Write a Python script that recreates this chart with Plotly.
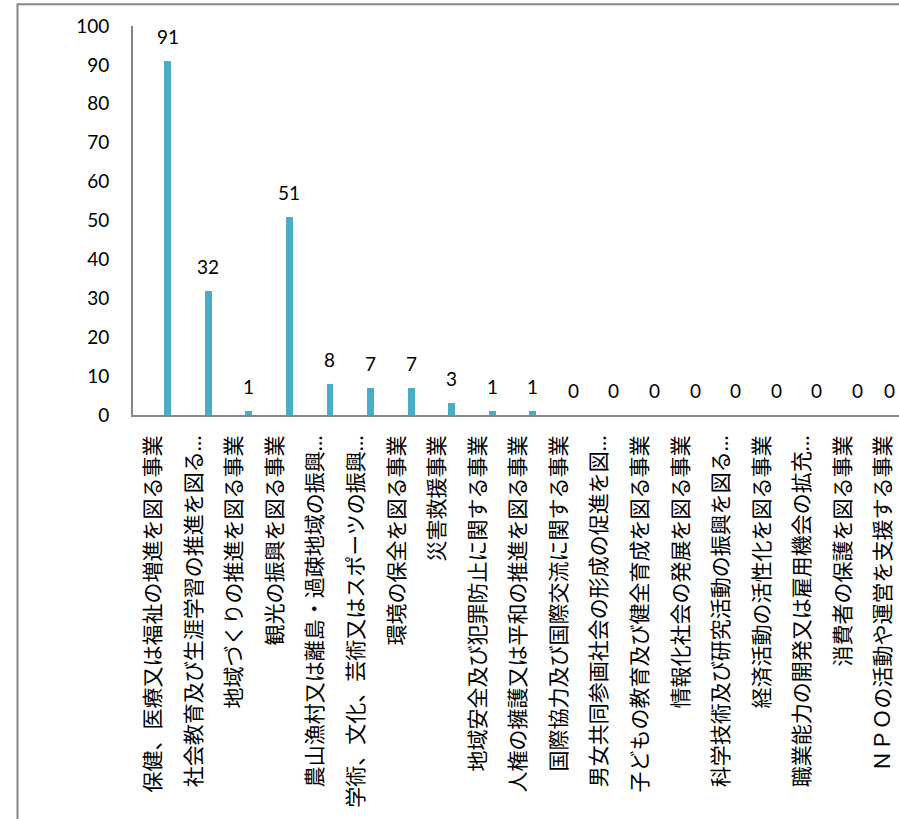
import plotly.graph_objects as go

# Categories of activity and the number of organisations for each
categories = [
    "保健、医療又は福祉の増進を図る事業",
    "社会教育及び生涯学習の推進を図る…",
    "地域づくりの推進を図る事業",
    "観光の振興を図る事業",
    "農山漁村又は離島・過疎地域の振興…",
    "学術、文化、芸術又はスポーツの振興…",
    "環境の保全を図る事業",
    "災害救援事業",
    "地域安全及び犯罪防止に関する事業",
    "人権の擁護又は平和の推進を図る事業",
    "国際協力及び国際交流に関する事業",
    "男女共同参画社会の形成の促進を図…",
    "子どもの教育及び健全育成を図る事業",
    "情報化社会の発展を図る事業",
    "科学技術及び研究活動の振興を図る…",
    "経済活動の活性化を図る事業",
    "職業能力の開発又は雇用機会の拡充…",
    "消費者の保護を図る事業",
    "ＮＰＯの活動や運営を支援する事業",
]
counts = [91, 32, 1, 51, 8, 7, 7, 3, 1, 1, 0, 0, 0, 0, 0, 0, 0, 0, 0]
y_ticks = [0, 10, 20, 30, 40, 50, 60, 70, 80, 90, 100]

W, H = 899, 819
ML, MR, MT, MB = 133, 0, 26, 404
plot_w = W - ML - MR
plot_h = H - MT - MB
cat_px = 40.57                      # pixel width of one category slot
x_max = -0.5 + plot_w / cat_px      # right edge of visible range

bar_offset, bar_width = 0.27, 0.17
positions = list(range(len(categories)))

AXIS_GREY = "#868686"
BAR_COLOUR = "#4BACC6"
NUM_FONT = "Lato, 'Open Sans', sans-serif"
# Latin font first so the ellipsis stays narrow; CJK glyphs fall back
JP_FONT = "Lato, 'Noto Sans CJK JP', 'Noto Sans CJK SC', sans-serif"

fig = go.Figure(
    go.Bar(
        x=positions,
        y=counts,
        width=bar_width,
        offset=bar_offset,
        marker=dict(color=BAR_COLOUR, line=dict(width=0)),
        hoverinfo="skip",
    )
)

# value labels above each bar
for i, v in enumerate(counts):
    cx = i + bar_offset + bar_width / 2
    shift = -8 if i == len(counts) - 1 else 0
    fig.add_annotation(
        x=cx, y=v, xref="x", yref="y",
        text=str(v), showarrow=False,
        yanchor="bottom", yshift=11, xshift=shift,
        font=dict(family=NUM_FONT, size=19, color="#000000"),
    )

# outer chart frame
def px_to_paper_x(px):
    return (px - ML) / plot_w

def px_to_paper_y(py):
    return (H - MB - py) / plot_h

fig.add_shape(
    type="rect", xref="paper", yref="paper",
    x0=px_to_paper_x(17.5), x1=px_to_paper_x(910),
    y0=px_to_paper_y(840), y1=px_to_paper_y(4.3),
    line=dict(color=AXIS_GREY, width=2), fillcolor="rgba(0,0,0,0)",
    layer="below",
)

fig.update_layout(
    width=W, height=H,
    margin=dict(l=ML, r=MR, t=MT, b=MB, autoexpand=False),
    paper_bgcolor="white", plot_bgcolor="white",
    showlegend=False,
    bargap=0,
)

fig.update_xaxes(
    range=[-0.5, x_max],
    tickmode="array", tickvals=positions, ticktext=categories,
    tickangle=-90,
    ticks="", ticklabelstandoff=10,
    tickfont=dict(family=JP_FONT, size=21, color="#000000"),
    showline=True, linecolor=AXIS_GREY, linewidth=2,
    showgrid=False, zeroline=False, automargin=False, fixedrange=True,
)

fig.update_yaxes(
    range=[0, 100],
    tickmode="array", tickvals=y_ticks,
    ticks="", ticklabelstandoff=18,
    tickfont=dict(family=NUM_FONT, size=19, color="#000000"),
    showline=True, linecolor=AXIS_GREY, linewidth=2,
    showgrid=False, zeroline=False, automargin=False, fixedrange=True,
)

fig.write_html("out.html", config={"displayModeBar": False})
